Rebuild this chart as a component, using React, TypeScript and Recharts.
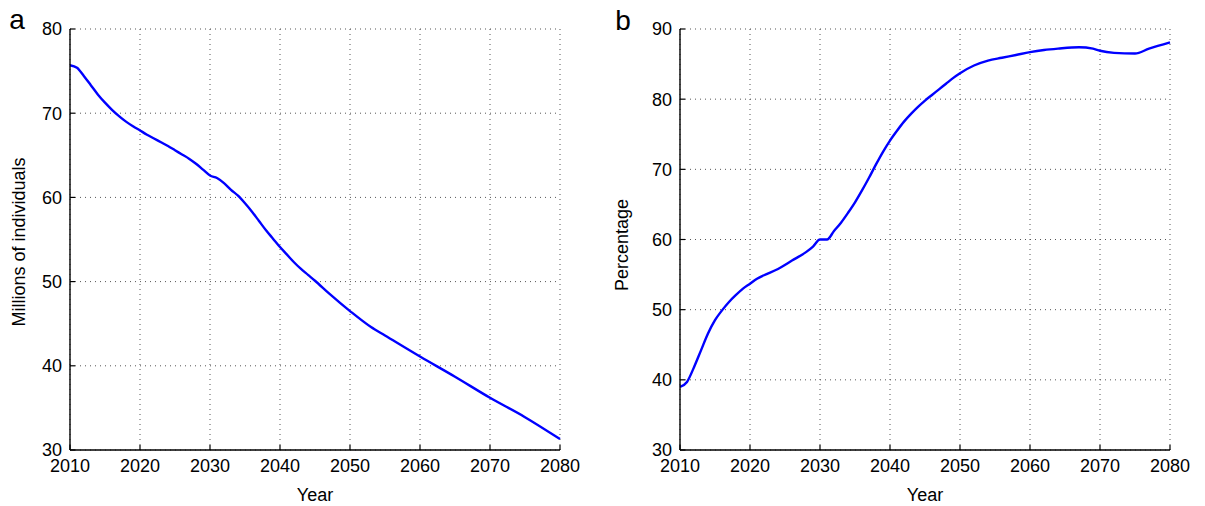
import { CartesianGrid, Line, LineChart, XAxis, YAxis } from "recharts";

const yearTicks = [2010, 2020, 2030, 2040, 2050, 2060, 2070, 2080];
const millionsTicks = [30, 40, 50, 60, 70, 80];
const percentTicks = [30, 40, 50, 60, 70, 80, 90];

const yearsA = [
  2010, 2011, 2012, 2013, 2014, 2015, 2016, 2017, 2018, 2019, 2020, 2021, 2022, 2023, 2024, 2025, 2026,
  2027, 2028, 2029, 2030, 2031, 2032, 2033, 2034, 2035, 2036, 2037, 2038, 2039, 2040, 2041, 2042, 2043,
  2044, 2045, 2047, 2050, 2053, 2055, 2060, 2065, 2070, 2075, 2080,
];
const millions = [
  75.7, 75.4, 74.4, 73.3, 72.2, 71.25, 70.4, 69.65, 69.0, 68.45, 67.95, 67.45, 67.0, 66.55, 66.1, 65.6, 65.1,
  64.6, 64.0, 63.3, 62.6, 62.3, 61.7, 60.9, 60.2, 59.3, 58.3, 57.2, 56.1, 55.1, 54.1, 53.2, 52.3, 51.5,
  50.8, 50.1, 48.6, 46.5, 44.6, 43.6, 41.1, 38.7, 36.2, 33.9, 31.3,
];

const yearsB = [
  2010, 2011, 2012, 2013, 2014, 2015, 2016, 2017, 2018, 2019, 2020, 2021, 2022, 2024, 2026, 2028, 2029,
  2030, 2031, 2032, 2033, 2034, 2035, 2036, 2037, 2038, 2039, 2040, 2041, 2042, 2043, 2044, 2045, 2046,
  2047, 2048, 2049, 2050, 2052, 2054, 2056, 2058, 2060, 2062, 2064, 2067, 2069, 2070, 2072, 2075, 2077,
  2080,
];
const percentage = [
  39.0, 39.7, 41.8, 44.2, 46.6, 48.5, 49.9, 51.1, 52.1, 53.0, 53.7, 54.4, 54.9, 55.8, 57.0, 58.2, 59.0,
  60.0, 60.0, 61.2, 62.4, 63.8, 65.3, 67.0, 68.8, 70.7, 72.5, 74.1, 75.5, 76.8, 77.9, 78.9, 79.8, 80.6,
  81.4, 82.2, 83.0, 83.7, 84.8, 85.5, 85.9, 86.3, 86.7, 87.0, 87.2, 87.4, 87.2, 86.9, 86.6, 86.5, 87.2,
  88.1,
];

const dataA = yearsA.map((year, i) => ({ year, value: millions[i] }));
const dataB = yearsB.map((year, i) => ({ year, value: percentage[i] }));

const FONT = "'Liberation Sans', Arial, Helvetica, sans-serif";
const tickStyle = { fill: "#000", fontSize: 18, fontFamily: FONT };
const axisLine = { stroke: "#000", strokeWidth: 1.4 };
const tickLine = { stroke: "#000", strokeWidth: 1.2 };
const noLabel = () => <g />;

type PanelProps = {
  data: { year: number; value: number }[];
  yTicks: number[];
  yDomain: [number, number];
  width: number;
  marginLeft: number;
  marginRight: number;
};

function Panel({ data, yTicks, yDomain, width, marginLeft, marginRight }: PanelProps) {
  return (
    <LineChart
      width={width}
      height={506}
      data={data}
      margin={{ top: 29, right: marginRight, bottom: 26, left: marginLeft }}
    >
      <CartesianGrid stroke="#555" strokeDasharray="1 4" />
      <XAxis
        dataKey="year"
        type="number"
        domain={[2010, 2080]}
        ticks={yearTicks}
        interval={0}
        height={30}
        tickSize={-5}
        tickMargin={14}
        axisLine={axisLine}
        tickLine={tickLine}
        tick={tickStyle}
      />
      <XAxis
        xAxisId="top"
        orientation="top"
        dataKey="year"
        type="number"
        domain={[2010, 2080]}
        ticks={yearTicks}
        interval={0}
        height={0}
        tickSize={-5}
        axisLine={axisLine}
        tickLine={tickLine}
        tick={noLabel}
      />
      <YAxis
        type="number"
        domain={yDomain}
        ticks={yTicks}
        interval={0}
        width={40}
        tickSize={-5}
        tickMargin={13}
        axisLine={axisLine}
        tickLine={tickLine}
        tick={tickStyle}
      />
      <YAxis
        yAxisId="right"
        orientation="right"
        type="number"
        domain={yDomain}
        ticks={yTicks}
        interval={0}
        width={0}
        tickSize={-5}
        axisLine={axisLine}
        tickLine={tickLine}
        tick={noLabel}
      />
      <Line
        type="monotone"
        dataKey="value"
        stroke="#0000ff"
        strokeWidth={2.4}
        dot={false}
        isAnimationActive={false}
      />
    </LineChart>
  );
}

export default function App() {
  return (
    <div style={{ position: "absolute", left: 0, top: 0, width: 1205, height: 506, background: "#fff" }}>
      <div style={{ position: "absolute", left: 0, top: 0 }}>
        <Panel data={dataA} yTicks={millionsTicks} yDomain={[30, 80]} width={600} marginLeft={30} marginRight={40} />
      </div>
      <div style={{ position: "absolute", left: 600, top: 0 }}>
        <Panel data={dataB} yTicks={percentTicks} yDomain={[30, 90]} width={605} marginLeft={40} marginRight={35} />
      </div>
      <svg
        width={1205}
        height={506}
        style={{ position: "absolute", left: 0, top: 0, pointerEvents: "none" }}
        fontFamily={FONT}
      >
        <text x={17} y={29} fontSize={28} textAnchor="middle">a</text>
        <text x={623} y={30} fontSize={28} textAnchor="middle">b</text>
        <text x={315} y={501} fontSize={18} textAnchor="middle">Year</text>
        <text x={925} y={501} fontSize={18} textAnchor="middle">Year</text>
        <text x={25} y={242} fontSize={18} textAnchor="middle" transform="rotate(-90 25 242)">
          Millions of individuals
        </text>
        <text x={628} y={245} fontSize={18} textAnchor="middle" transform="rotate(-90 628 245)">
          Percentage
        </text>
      </svg>
    </div>
  );
}
